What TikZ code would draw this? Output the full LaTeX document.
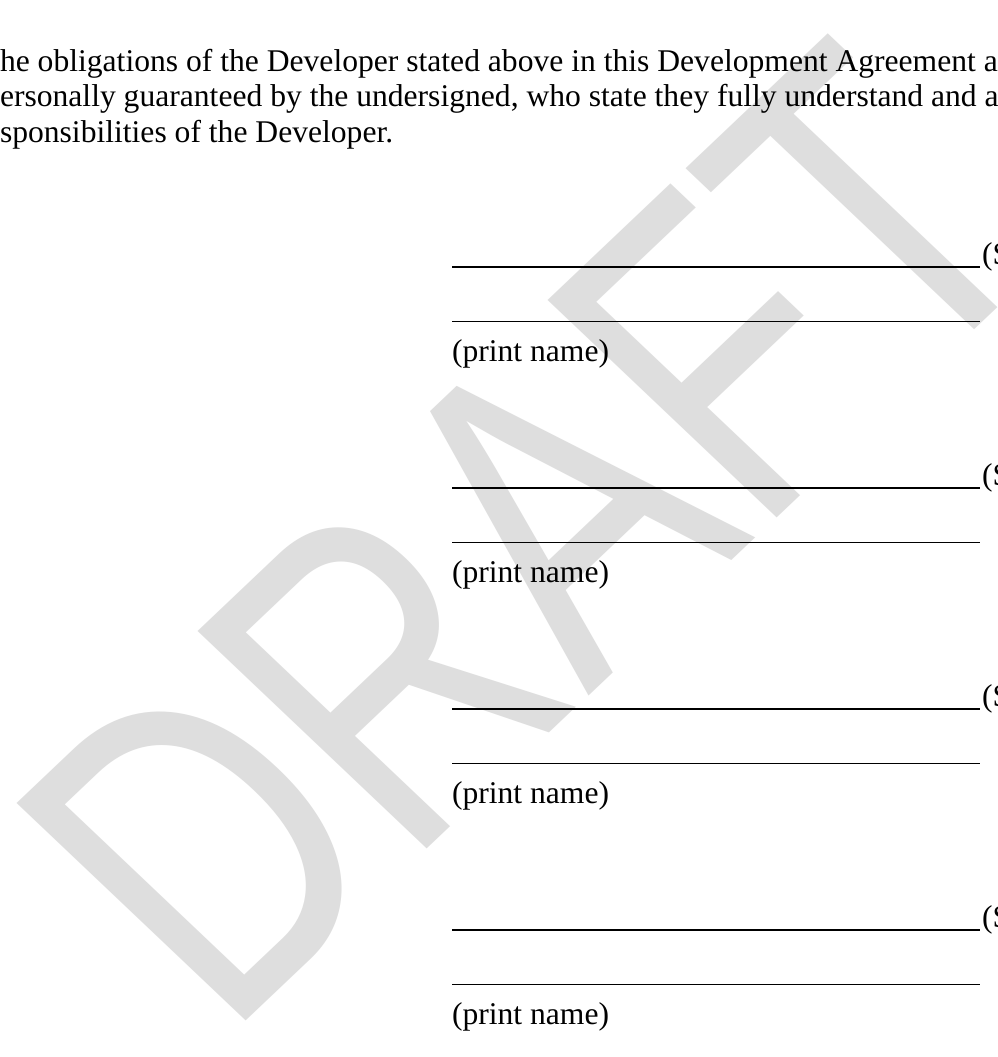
\documentclass[tikz,border=0pt]{standalone}
\usepackage{fontspec}
\setmainfont{Liberation Serif}
\newfontfamily\wmfont{Liberation Sans}
\definecolor{wmgray}{RGB}{222,222,222}
\tikzset{
  body/.style={inner sep=0pt, outer sep=0pt, anchor=base west, font=\fontsize{31.6}{36}\selectfont, text=black},
  sigline/.style={line width=2pt, black},
  nameline/.style={line width=1pt, black},
  watermark/.style={inner sep=0pt, outer sep=0pt, anchor=base west, transform shape, rotate=45, text=wmgray, font=\wmfont\fontsize{471}{471}\selectfont}
}
\begin{document}
\begin{tikzpicture}[x=1pt,y=-1pt]
\useasboundingbox (0,0) rectangle (997,1057);
\clip (0,0) rectangle (997,1057);
\fill[white] (0,0) rectangle (997,1057);
% watermark
\begin{scope}[shift={(225.2,1040.8)}, yscale=0.949]
\node[watermark] (wm) at (0,0) {\scalebox{0.755}[1]{DRAFT}};
\end{scope}
% paragraph
\node[body] (p1) at (0,71) {he obligations of the Developer stated above in this Development Agreement a};
\node[body] (p2) at (0,106.5) {ersonally guaranteed by the undersigned, who state they fully understand and a};
\node[body] (p3) at (0,142) {sponsibilities of the Developer.};
% signature blocks
\foreach \k in {0,1,2,3}{
  \pgfmathsetmacro{\yy}{267+221*\k}
  \coordinate (sa\k) at (452,\yy);
  \coordinate (sb\k) at (980,\yy);
  \draw[sigline] (sa\k) -- (sb\k);
  \node[body] (sg\k) at (982,\yy-3) {(S};
  \coordinate (na\k) at (452,\yy+54);
  \coordinate (nb\k) at (980,\yy+54);
  \draw[nameline] (na\k) -- (nb\k);
  \node[body] (pn\k) at (452,\yy+94) {(print name)};
}
\end{tikzpicture}
\end{document}
